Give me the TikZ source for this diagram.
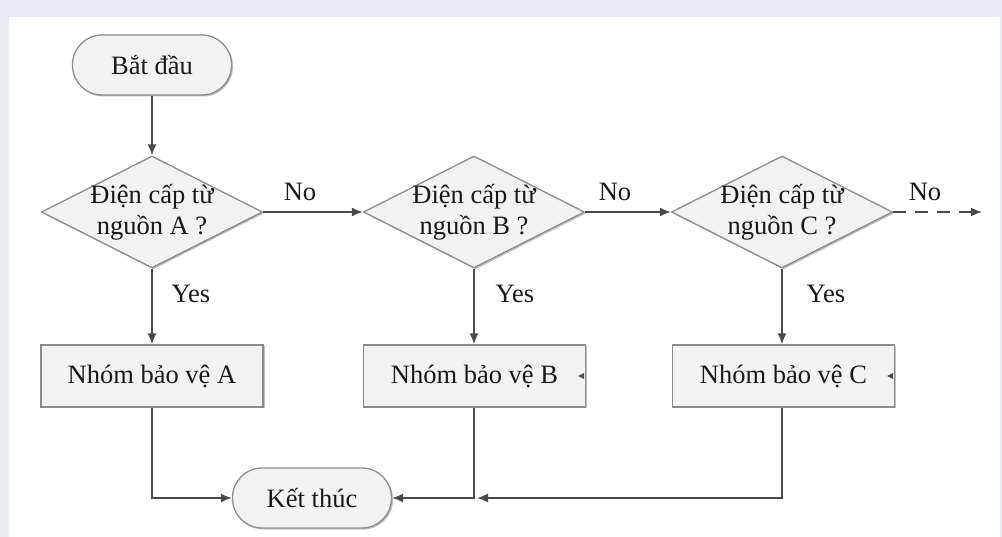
\documentclass[tikz,border=0pt]{standalone}
\usepackage{fontspec}
\setmainfont{Liberation Serif}
\usetikzlibrary{shapes.geometric,arrows.meta,shadows}
\definecolor{bgblue}{HTML}{E8EBF5}
\definecolor{linec}{HTML}{4A4A4A}
\definecolor{borderc}{HTML}{8C8C8C}
\definecolor{fillc}{HTML}{F2F2F2}
\begin{document}
\begin{tikzpicture}[x=1pt,y=-1pt,
  every node/.style={font=\fontsize{26.5}{31}\selectfont, text=black!90},
  shapebase/.style={draw=borderc, line width=1.3pt, fill=fillc,
    drop shadow={shadow xshift=1.5pt, shadow yshift=-1.5pt, opacity=0.25, fill=black}},
  term/.style={shapebase, rectangle, rounded corners=29.5pt, minimum width=159pt, minimum height=60pt, inner sep=0pt},
  dia/.style={shapebase, diamond, minimum width=221pt, minimum height=112pt, inner sep=0pt},
  procbox/.style={shapebase, rectangle, minimum width=222pt, minimum height=62pt, inner sep=0pt},
  txt/.style={align=center, inner sep=0pt},
  lbl/.style={inner sep=0pt},
  conn/.style={draw=linec, line width=1.6pt},
  arr/.style={conn, -{Latex[length=11pt,width=9pt]}},
]
\useasboundingbox (0,0) rectangle (1002,537);
\fill[bgblue] (0,0) rectangle (1002,537);
\fill[white] (9,17) rectangle (1000,537);

\node[term] (start) at (152,65) {Bắt đầu};
\node[term] (stop) at (312,498) {Kết thúc};

\node[dia] (dA) at (152,212) {};
\node[txt] (tA) at (152,212) {Điện cấp từ\\nguồn A ?};
\node[dia] (dB) at (474,212) {};
\node[txt] (tB) at (474,212) {Điện cấp từ\\nguồn B ?};
\node[dia] (dC) at (782,212) {};
\node[txt] (tC) at (782,212) {Điện cấp từ\\nguồn C ?};

\node[procbox] (bA) at (152,376) {Nhóm bảo vệ A};
\node[procbox] (bB) at (474.5,376) {Nhóm bảo vệ B};
\node[procbox] (bC) at (783.5,376) {Nhóm bảo vệ C};

\coordinate (noC) at (982,212);
\coordinate (jB) at (474,498);
\coordinate (jC) at (782,498);
\coordinate (jA) at (152,498);

\draw[arr] (start) -- (dA);
\draw[arr] (dA.east) -- (dB.west);
\draw[arr] (dB.east) -- (dC.west);
\draw[conn, dash pattern=on 13pt off 9pt, -{Latex[length=11pt,width=9pt]}] (dC.east) -- (noC);

\draw[arr] (dA.south) -- (bA.north);
\draw[arr] (dB.south) -- (dB.south |- bB.north);
\draw[arr] (dC.south) -- (dC.south |- bC.north);

\draw[arr] (bA.south) -- (jA) -- (stop.west);
\draw[arr] (bB.south -| jB) -- (jB) -- (stop.east);
\draw[conn, -{Latex[length=11pt,width=9pt]}] (bC.south -| jC) -- (jC) -- ([xshift=3pt]jB);

\node[lbl] (no1) at (300,192) {No};
\node[lbl] (no2) at (615,192) {No};
\node[lbl] (no3) at (925,192) {No};
\node[lbl] (y1) at (191,294) {Yes};
\node[lbl] (y2) at (515,294) {Yes};
\node[lbl] (y3) at (826,294) {Yes};

\fill[linec] (bB.east) ++(-8,0) -- ++(6,-3) -- ++(0,6) -- cycle;
\fill[linec] (bC.east) ++(-8,0) -- ++(6,-3) -- ++(0,6) -- cycle;
\end{tikzpicture}
\end{document}
